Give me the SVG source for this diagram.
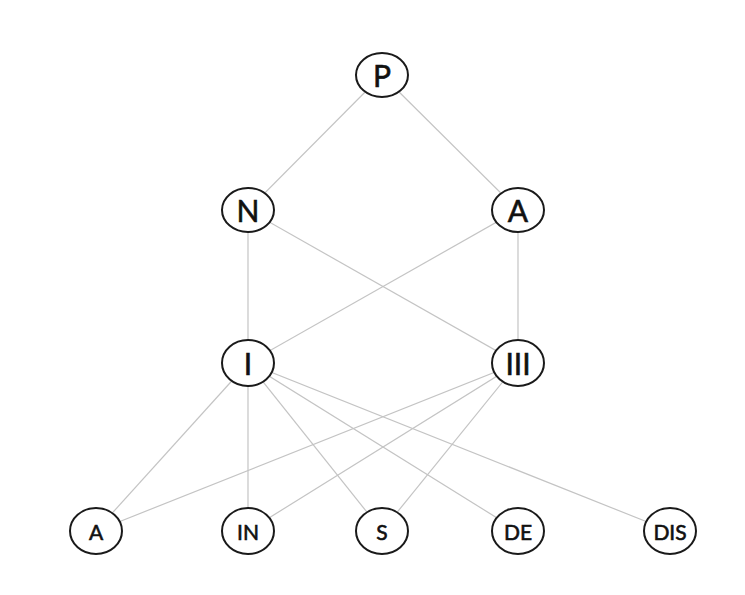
<svg xmlns="http://www.w3.org/2000/svg" width="745" height="595" viewBox="0 0 745 595">
<style>
.e{fill:#fff;stroke:#1a1a1a;stroke-width:2}
.t{font-family:Lato,"Open Sans",sans-serif;fill:#111;stroke:#111;stroke-width:0.6;text-anchor:middle;dominant-baseline:central}
.b{font-size:30px}
.s{font-size:21px}
#edges line{stroke:#c4c4c4;stroke-width:1.2}
</style>
<rect width="745" height="595" fill="#fff"/>
<g id="edges">
<line x1="382" y1="75" x2="248" y2="210"/>
<line x1="382" y1="75" x2="518" y2="210"/>
<line x1="248" y1="210" x2="248" y2="363"/>
<line x1="248" y1="210" x2="518" y2="363"/>
<line x1="518" y1="210" x2="248" y2="363"/>
<line x1="518" y1="210" x2="518" y2="363"/>
<line x1="248" y1="363" x2="96" y2="531"/>
<line x1="248" y1="363" x2="248" y2="531"/>
<line x1="248" y1="363" x2="382" y2="531"/>
<line x1="248" y1="363" x2="518" y2="531"/>
<line x1="248" y1="363" x2="670" y2="531"/>
<line x1="518" y1="363" x2="96" y2="531"/>
<line x1="518" y1="363" x2="248" y2="531"/>
<line x1="518" y1="363" x2="382" y2="531"/>
</g>
<g id="nP"><ellipse class="e" cx="382" cy="75" rx="26" ry="22"/><text class="t b" x="382" y="75">P</text></g>
<g id="nN"><ellipse class="e" cx="248" cy="210" rx="26" ry="22"/><text class="t b" x="248" y="210">N</text></g>
<g id="nA"><ellipse class="e" cx="518" cy="210" rx="26" ry="22"/><text class="t b" x="518" y="210">A</text></g>
<g id="nI"><ellipse class="e" cx="248" cy="363" rx="26" ry="23"/><text class="t b" x="248" y="363">I</text></g>
<g id="nIII"><ellipse class="e" cx="518" cy="363" rx="26" ry="23"/><text class="t b" x="518" y="363">III</text></g>
<g id="bA"><ellipse class="e" cx="96" cy="531" rx="26" ry="23"/><text class="t s" x="96" y="531">A</text></g>
<g id="bIN"><ellipse class="e" cx="248" cy="531" rx="26" ry="23"/><text class="t s" x="248" y="531">IN</text></g>
<g id="bS"><ellipse class="e" cx="382" cy="531" rx="26" ry="23"/><text class="t s" x="382" y="531">S</text></g>
<g id="bDE"><ellipse class="e" cx="518" cy="531" rx="26" ry="23"/><text class="t s" x="518" y="531">DE</text></g>
<g id="bDIS"><ellipse class="e" cx="670" cy="531" rx="26" ry="23"/><text class="t s" x="670" y="531">DIS</text></g>
</svg>
